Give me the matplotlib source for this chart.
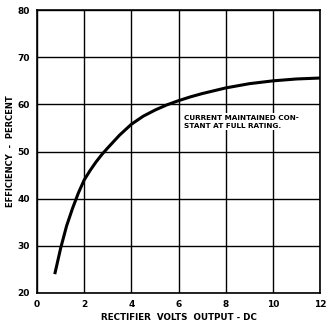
import matplotlib
matplotlib.use("Agg")
import matplotlib.pyplot as plt

volts = [0.75, 1.0, 1.25, 1.5, 1.75, 2.0, 2.25, 2.5, 2.75, 3.0, 3.5, 4.0, 4.5, 5.0,
         5.5, 6.0, 6.5, 7.0, 7.5, 8.0, 9.0, 10.0, 11.0, 12.0]
efficiency = [24, 29.5, 34.2, 37.9, 41.2, 44, 46.0, 47.8, 49.4, 50.8, 53.5, 55.8, 57.5, 58.8,
              59.9, 60.8, 61.6, 62.3, 62.9, 63.5, 64.4, 65.0, 65.4, 65.6]
x_ticks = [0, 2, 4, 6, 8, 10, 12]
y_ticks = [20, 30, 40, 50, 60, 70, 80]

fig = plt.figure(figsize=(3.28, 3.27), dpi=100)
ax = fig.add_axes([0.113, 0.104, 0.863, 0.865])

ax.plot(volts, efficiency, color="black", linewidth=2.2, solid_capstyle="butt",
        solid_joinstyle="round")

ax.set_xlim(0, 12)
ax.set_ylim(20, 80)
ax.set_xticks(x_ticks)
ax.set_yticks(y_ticks)
ax.set_xticklabels([str(t) for t in x_ticks], fontsize=6.5, fontweight="bold")
ax.set_yticklabels([str(t) for t in y_ticks], fontsize=6.5, fontweight="bold")
ax.tick_params(length=0, pad=5)
ax.grid(True, color="black", linewidth=1.0)
for s in ax.spines.values():
    s.set_linewidth(1.2)

ax.set_xlabel("RECTIFIER  VOLTS  OUTPUT - DC", fontsize=6.3, fontweight="bold", labelpad=3)
ax.set_ylabel("EFFICIENCY  -  PERCENT", fontsize=6, fontweight="bold", labelpad=2)

ax.text(6.25, 57.8, "CURRENT MAINTAINED CON-\nSTANT AT FULL RATING.",
        fontsize=5.2, fontweight="bold", va="top", ha="left", linespacing=1.4,
        bbox=dict(facecolor="white", edgecolor="none", pad=1))

fig.savefig("out.png", dpi=100)
